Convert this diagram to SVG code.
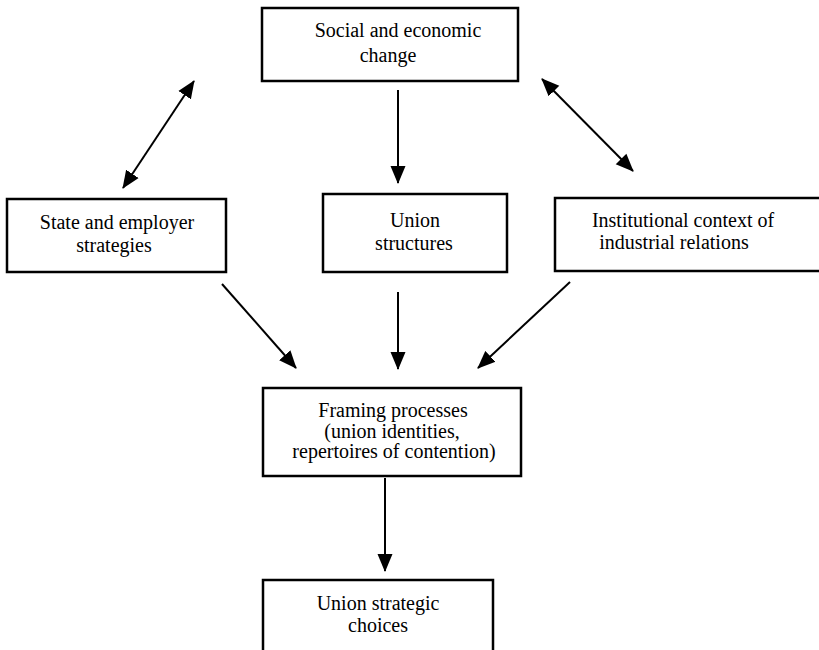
<svg xmlns="http://www.w3.org/2000/svg" width="819" height="650" viewBox="0 0 819 650">
<style>
.box{fill:#fff;stroke:#000;stroke-width:2.5}
.t{font-family:"Liberation Serif","Times New Roman",serif;font-size:20px;fill:#000;text-anchor:middle}
.c{stroke:#000;stroke-width:2;fill:none}
</style>
<defs>
<marker id="ah" markerUnits="userSpaceOnUse" markerWidth="18" markerHeight="16" refX="17" refY="7.5" orient="auto-start-reverse" viewBox="0 0 18 15">
<path d="M0,0 L18,7.5 L0,15 z" fill="#000"/>
</marker>
</defs>
<rect width="819" height="650" fill="#fff"/>
<g id="connectors">
<line class="c" x1="123" y1="188" x2="194" y2="81" marker-start="url(#ah)" marker-end="url(#ah)"/>
<line class="c" x1="542" y1="79" x2="633" y2="171" marker-start="url(#ah)" marker-end="url(#ah)"/>
<line class="c" x1="398" y1="90" x2="398" y2="183" marker-end="url(#ah)"/>
<line class="c" x1="398" y1="292" x2="398" y2="369" marker-end="url(#ah)"/>
<line class="c" x1="222" y1="284" x2="296" y2="368" marker-end="url(#ah)"/>
<line class="c" x1="570" y1="282" x2="478" y2="368" marker-end="url(#ah)"/>
<line class="c" x1="385" y1="478" x2="385" y2="571" marker-end="url(#ah)"/>
</g>
<g id="social">
<rect class="box" x="262" y="8" width="256" height="73"/>
<text class="t" x="398" y="37">Social and economic</text>
<text class="t" x="388" y="62">change</text>
</g>
<g id="state">
<rect class="box" x="7" y="199" width="219" height="73"/>
<text class="t" x="117" y="229">State and employer</text>
<text class="t" x="114" y="252">strategies</text>
</g>
<g id="union">
<rect class="box" x="323" y="194" width="184" height="78"/>
<text class="t" x="415" y="227">Union</text>
<text class="t" x="414" y="250">structures</text>
</g>
<g id="institutional">
<rect class="box" x="555" y="198" width="270" height="73"/>
<text class="t" x="683" y="227">Institutional context of</text>
<text class="t" x="674" y="249">industrial relations</text>
</g>
<g id="framing">
<rect class="box" x="263" y="388" width="258" height="88"/>
<text class="t" x="393" y="417">Framing processes</text>
<text class="t" x="392" y="438">(union identities,</text>
<text class="t" x="394" y="458">repertoires of contention)</text>
</g>
<g id="choices">
<rect class="box" x="263" y="580" width="230" height="80"/>
<text class="t" x="378" y="610">Union strategic</text>
<text class="t" x="378" y="632">choices</text>
</g>
</svg>
